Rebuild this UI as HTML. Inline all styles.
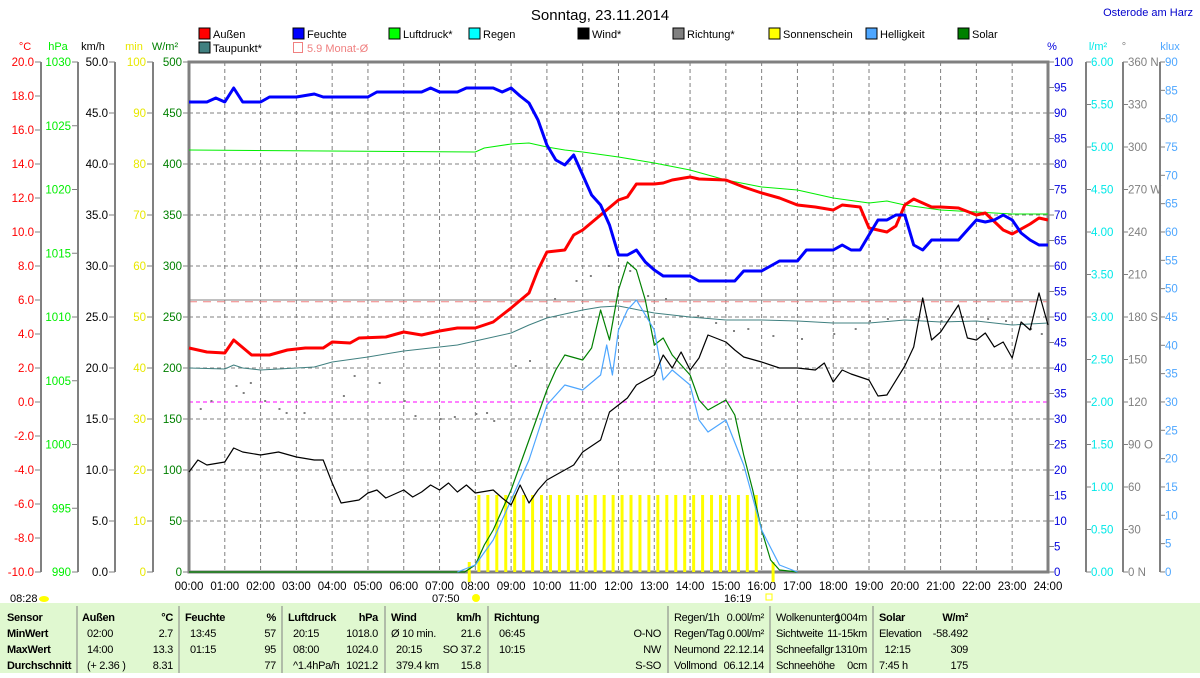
<!DOCTYPE html>
<html><head><meta charset="utf-8"><style>
body{margin:0;background:#fff;}
svg text{font-family:"Liberation Sans",sans-serif;font-size:11px;}
svg text.tb{font-size:11px;letter-spacing:-0.3px;}
svg text.xl{font-size:11.5px;}
</style></head><body>
<svg id="s" width="1200" height="673" xmlns="http://www.w3.org/2000/svg">
<rect x="0" y="603" width="1200" height="70" fill="#e0f8d0"/>
</svg>
<script>
const S=document.getElementById('s');let h='';
const X=t=>189+35.79*t;
function txt(x,y,s,c,a,extra){h+=`<text x="${x}" y="${y}" fill="${c||'#000'}" text-anchor="${a||'start'}" ${extra||''}>${s}</text>`;}
function tt(x,y,s,a,extra){txt(x,y,s,'#000',a,'class="tb" '+(extra||''));}
function ln(x1,y1,x2,y2,c,w,d){h+=`<line x1="${x1}" y1="${y1}" x2="${x2}" y2="${y2}" stroke="${c}" stroke-width="${w||1}" ${d?`stroke-dasharray="${d}"`:''}/>`;}
for(let i=1;i<24;i++)ln(X(i),62,X(i),572,'#808080',1,'4,3');
for(let i=1;i<10;i++)ln(189,62+51*i,1048,62+51*i,'#808080',1,'4,3');
ln(189,300,1048,300,'#808080',1);
ln(189,301.7,1048,301.7,'#f08080',1,'8,6');
ln(189,402,1048,402,'#ff00ff',1,'4,3');
h+=`<rect x="189" y="62" width="859" height="510" fill="none" stroke="#808080" stroke-width="3"/>`;
function axis(lx,vals,fmt,col,ylab,unit,ucol,ux){ln(lx,62,lx,572,'#808080',2);
 vals.forEach(([v,y])=>{ln(lx-6,y,lx,y,'#808080',1);txt(lx-7,y+4,fmt(v),col,'end','class="xl"');});txt(ux,50,unit,ucol,'middle');}
let a=[];for(let i=0;i<=15;i++)a.push([20-2*i,62+34*i]);axis(41,a,v=>v.toFixed(1),'#ff0000',0,'°C','#ff0000',25);
a=[];for(let i=0;i<=8;i++)a.push([1030-5*i,62+63.75*i]);axis(78,a,v=>v,'#00ee00',0,'hPa','#00ee00',58);
a=[];for(let i=0;i<=10;i++)a.push([50-5*i,62+51*i]);axis(115,a,v=>v.toFixed(1),'#000',0,'km/h','#000',93);
a=[];for(let i=0;i<=10;i++)a.push([100-10*i,62+51*i]);axis(153,a,v=>v,'#e8e800',0,'min','#e8e800',134);
a=[];for(let i=0;i<=10;i++)a.push([500-50*i,62+51*i]);a.forEach(([v,y])=>{ln(183,y,189,y,'#808080');txt(182,y+4,v,'#008000','end','class="xl"');});txt(165,50,'W/m²','#008000','middle');
function raxis(lx,vals,col,line){if(line)ln(lx,62,lx,572,'#808080',2);vals.forEach(([s,y])=>{ln(lx,y,lx+5,y,'#808080');txt(lx+5,y+4,s,col,'start','class="xl"');});}
a=[];for(let i=0;i<=20;i++)a.push([100-5*i,62+25.5*i]);raxis(1049,a,'#0000dd',false);txt(1052,50,'%','#0000dd','middle');
a=[];for(let i=0;i<=12;i++)a.push([(6-0.5*i).toFixed(2),62+42.5*i]);raxis(1086,a,'#00e8e8',true);txt(1098,50,'l/m²','#00e8e8','middle');
const dn={360:'360 N',270:'270 W',180:'180 S',90:'90 O',0:'0 N'};
a=[];for(let i=0;i<=12;i++){let v=360-30*i;a.push([dn[v]||v,62+42.5*i]);}raxis(1123,a,'#808080',true);txt(1124,50,'°','#808080','middle');
a=[];for(let i=0;i<=18;i++)a.push([90-5*i,62+28.33*i]);raxis(1160,a,'#4da6ff',true);txt(1170,50,'klux','#4da6ff','middle');
for(let i=0;i<=24;i++)txt(X(i),590,(i<10?'0':'')+i+':00','#000','middle','class="xl"');
function P(arr,c,w){let p=arr.map(([t,y])=>`${X(t).toFixed(1)},${y}`).join(' ');h+=`<polyline points="${p}" fill="none" stroke="${c}" stroke-width="${w}" stroke-linejoin="round"/>`;}
for(let t=8.1;t<=16.05;t+=0.25)h+=`<rect x="${X(t)-1.5}" y="495" width="3" height="77" fill="#ffff00"/>`;
ln(X(7.83),562,X(7.83),582,'#ffff00',3);ln(X(16.32),562,X(16.32),582,'#ffff00',3);
const dots=[[0.3,408],[0.6,400],[1.3,385],[1.5,392],[1.7,382],[2.1,400],[2.5,408],[2.7,412],[3.2,412],[4.3,395],[4.6,375],[5.3,382],[6,400],[6.3,415],[7,418],[7.4,416],[8,413],[8.3,412],[8.5,420],[9.1,365],[9.5,360],[10.2,298],[10.8,280],[11.2,275],[11.7,265],[12.3,270],[12.8,295],[13.3,298],[14.2,315],[14.7,322],[15.2,330],[15.6,328],[16.3,335],[17.1,338],[18,333],[18.6,328],[19,320],[19.5,318],[20.3,318],[21,320],[21.6,316],[22.3,318],[22.8,320],[23.5,328],[23.8,333]];
dots.forEach(([t,y])=>h+=`<rect x="${X(t)}" y="${y}" width="2" height="2" fill="#808080"/>`);
P([[0,150],[8,152],[8.25,148],[9,144],[9.5,143],[10,147],[10.5,150],[11,152],[12,157],[13,163],[14,170],[15,180],[16,187],[17,190],[18,198],[19,203],[19.5,201],[20,205],[21,210],[22,212],[23,214],[24,214]],'#00ee00',1);
P([[0,368],[1,369],[1.25,365],[1.5,368],[2,370],[3,368],[3.5,367],[4,362],[5,357],[6,351],[7,347],[7.5,345],[8,341],[9,333],[9.5,325],[10,318],[11,310],[11.5,307],[12,306],[13,313],[14,317],[15,320],[16,320],[17,321],[18,323],[19,323],[20,320],[21,322],[22,321],[23,325],[24,323]],'#408080',1);
P([[0,572],[7.7,572],[8,565],[8.25,545],[8.5,530],[9,490],[9.5,440],[10,390],[10.25,370],[10.5,355],[11,360],[11.25,348],[11.5,310],[11.75,340],[12,290],[12.25,262],[12.5,270],[12.75,300],[13,345],[13.25,338],[13.5,355],[14,375],[14.25,400],[14.5,410],[15,400],[15.25,415],[15.5,455],[15.75,490],[16,530],[16.25,560],[16.5,570],[17,572]],'#008000',1.2);
P([[7.5,572],[8,565],[8.5,540],[9,500],[9.5,460],[10,405],[10.5,385],[11,390],[11.5,375],[11.67,345],[11.83,375],[12,330],[12.25,310],[12.5,300],[13,330],[13.25,380],[13.5,370],[14,385],[14.25,420],[14.5,432],[15,420],[15.5,465],[16,530],[16.5,565],[17,572]],'#4da6ff',1.2);
P([[0,472],[0.25,460],[0.5,465],[1,462],[1.25,448],[1.5,452],[2,455],[2.5,452],[3,457],[3.5,460],[3.75,460],[4,483],[4.25,503],[4.75,500],[5,493],[5.25,490],[5.5,498],[6,490],[6.25,497],[6.5,492],[6.75,485],[7,490],[7.25,483],[7.5,492],[7.75,485],[8,493],[8.5,490],[8.75,498],[9,505],[9.25,485],[9.5,503],[9.75,490],[10,480],[10.25,475],[10.5,470],[10.75,465],[11,452],[11.5,440],[11.75,412],[12,405],[12.25,398],[12.5,385],[13,375],[13.25,355],[13.5,368],[13.75,352],[14,370],[14.25,358],[14.5,335],[15,342],[15.25,350],[15.5,357],[16,362],[16.5,368],[17,368],[17.5,370],[17.75,363],[18,382],[18.25,370],[18.5,374],[19,380],[19.25,396],[19.5,395],[20,366],[20.25,347],[20.5,298],[20.75,340],[21,332],[21.5,305],[21.75,338],[22,340],[22.25,333],[22.5,347],[22.75,342],[23,358],[23.25,322],[23.5,330],[23.75,293],[24,325]],'#000',1.2);
P([[0,348],[0.5,352],[1,353],[1.25,340],[1.75,355],[2.25,355],[2.75,350],[3.25,348],[3.75,348],[4,342],[4.5,343],[4.75,338],[5.5,337],[6,332],[6.5,335],[7,331],[7.5,328],[8,328],[8.25,325],[8.5,322],[9,308],[9.5,293],[9.75,270],[10,252],[10.5,250],[10.75,235],[11,230],[11.5,215],[12,200],[12.25,197],[12.5,184],[13,184],[13.25,183],[13.5,180],[14,177],[14.25,179],[15,180],[15.5,187],[16,193],[16.5,198],[17,205],[17.5,207],[18,210],[18.25,205],[18.75,207],[19,228],[19.5,232],[19.75,226],[20,205],[20.25,199],[20.75,207],[21,207],[21.5,208],[22,215],[22.25,213],[22.75,230],[23,234],[23.5,224],[23.75,218],[24,220]],'#ff0000',3);
P([[0,102],[0.5,102],[0.75,98],[1,102],[1.25,88],[1.5,102],[2,102],[2.25,97],[3,97],[3.5,94],[3.75,97],[4,97],[5,97],[5.25,92],[6,92],[6.5,92],[6.75,88],[7,92],[7.5,92],[7.75,88],[8,88],[8.5,88],[8.75,92],[9,88],[9.25,96],[9.5,103],[9.75,120],[10,145],[10.25,160],[10.5,165],[10.75,155],[11,175],[11.25,195],[11.5,205],[11.75,225],[12,255],[12.25,255],[12.5,250],[12.75,262],[13,270],[13.25,276],[14,276],[14.25,281],[15.25,281],[15.5,271],[16,271],[16.25,266],[16.5,261],[17,261],[17.25,250],[18,250],[18.25,245],[18.5,250],[18.75,250],[19,235],[19.25,220],[19.5,220],[19.75,215],[20,215],[20.25,245],[20.5,250],[20.75,240],[21.5,240],[21.75,230],[22,220],[22.25,222],[22.5,220],[22.75,215],[23,220],[23.25,233],[23.5,240],[23.75,245],[24,245]],'#0000ff',3);
const L=[[199,38,'Außen','#ff0000'],[293,38,'Feuchte','#0000ff'],[389,38,'Luftdruck*','#00ff00'],[469,38,'Regen','#00ffff'],[578,38,'Wind*','#000'],[673,38,'Richtung*','#808080'],[769,38,'Sonnenschein','#ffff00'],[866,38,'Helligkeit','#4da6ff'],[958,38,'Solar','#008000'],[199,52,'Taupunkt*','#408080']];
L.forEach(([x,y,s,c])=>{h+=`<rect x="${x}" y="${y-10}" width="11" height="11" fill="${c}" stroke="#000"/>`;txt(x+14,y,s);});
h+=`<rect x="293.5" y="42.5" width="9" height="10" fill="none" stroke="#f08080"/>`;txt(307,52,'5.9 Monat-Ø','#f08080');
txt(600,20,'Sonntag, 23.11.2014','#000','middle','style="font-size:15px"');
txt(1193,16,'Osterode am Harz','#0000cc','end','style="font-size:11px"');
txt(10,602,'08:28');h+=`<ellipse cx="44" cy="599" rx="5" ry="3" fill="#ffff00"/>`;
txt(432,602,'07:50');h+=`<circle cx="476" cy="598" r="4" fill="#ffff00"/>`;
txt(724,602,'16:19');h+=`<rect x="766" y="594" width="6" height="6" fill="none" stroke="#ffff00"/>`;
[77,179,282,385,488,668,770,873].forEach(x=>ln(x,606,x,673,'#808080',1));
const B='font-weight="bold"';
const rows=[617,633,649,665];
['Sensor','MinWert','MaxWert','Durchschnitt'].forEach((s,i)=>tt(7,rows[i]+4,s,'start',B));
function col(x1,x2,hd,hu,l,r){tt(x1,rows[0]+4,hd,'start',B);tt(x2,rows[0]+4,hu,'end',B);l.forEach((s,i)=>tt(x1+5,rows[i+1]+4,s));r.forEach((s,i)=>tt(x2,rows[i+1]+4,s,'end'));}
col(82,173,'Außen','°C',['02:00','14:00','(+ 2.36 )'],['2.7','13.3','8.31']);
col(185,276,'Feuchte','%',['13:45','01:15',''],['57','95','77']);
col(288,378,'Luftdruck','hPa',['20:15','08:00','^1.4hPa/h'],['1018.0','1024.0','1021.2']);
tt(391,621,'Wind','start',B);tt(481,621,'km/h','end',B);
tt(391,637,'Ø 10 min.');tt(481,637,'21.6','end');tt(396,653,'20:15');tt(481,653,'SO 37.2','end');tt(396,669,'379.4 km');tt(481,669,'15.8','end');
col(494,661,'Richtung','',['06:45','10:15',''],['O-NO','NW','S-SO']);
const t2=[['Regen/1h','0.00l/m²'],['Regen/Tag','0.00l/m²'],['Neumond','22.12.14'],['Vollmond','06.12.14']];
t2.forEach(([a,b],i)=>{tt(674,rows[i]+4,a);tt(764,rows[i]+4,b,'end');});
const t3=[['Wolkenunterg','1004m'],['Sichtweite','11-15km'],['Schneefallgr','1310m'],['Schneehöhe','0cm']];
t3.forEach(([a,b],i)=>{tt(776,rows[i]+4,a);tt(867,rows[i]+4,b,'end');});
tt(879,621,'Solar','start',B);tt(968,621,'W/m²','end',B);
[['Elevation','-58.492'],['  12:15','309'],['7:45 h','175']].forEach(([a,b],i)=>{tt(879,rows[i+1]+4,a,'start','xml:space="preserve"');tt(968,rows[i+1]+4,b,'end');});
S.innerHTML+=h;
</script>
</body></html>
